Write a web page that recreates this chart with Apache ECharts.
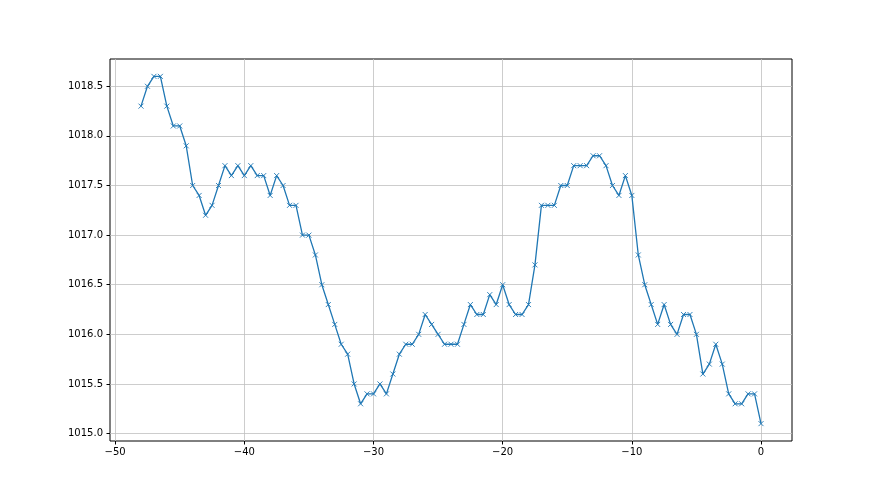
<!DOCTYPE html>
<html>
<head>
<meta charset="utf-8">
<script src="https://cdn.jsdelivr.net/npm/echarts@6/dist/echarts.min.js"></script>
<style>
  html, body { margin: 0; padding: 0; background: #fff; }
  #chart { width: 880px; height: 495px; }
</style>
</head>
<body>
<div id="chart"></div>
<script>
// hours before now, every half hour
const hours = [
  -48, -47.5, -47, -46.5, -46, -45.5, -45, -44.5, -44, -43.5,
  -43, -42.5, -42, -41.5, -41, -40.5, -40, -39.5, -39, -38.5,
  -38, -37.5, -37, -36.5, -36, -35.5, -35, -34.5, -34, -33.5,
  -33, -32.5, -32, -31.5, -31, -30.5, -30, -29.5, -29, -28.5,
  -28, -27.5, -27, -26.5, -26, -25.5, -25, -24.5, -24, -23.5,
  -23, -22.5, -22, -21.5, -21, -20.5, -20, -19.5, -19, -18.5,
  -18, -17.5, -17, -16.5, -16, -15.5, -15, -14.5, -14, -13.5,
  -13, -12.5, -12, -11.5, -11, -10.5, -10, -9.5, -9, -8.5,
  -8, -7.5, -7, -6.5, -6, -5.5, -5, -4.5, -4, -3.5,
  -3, -2.5, -2, -1.5, -1, -0.5, 0
]
const pressure = [
  1018.3, 1018.5, 1018.6, 1018.6, 1018.3, 1018.1, 1018.1, 1017.9, 1017.5, 1017.4,
  1017.2, 1017.3, 1017.5, 1017.7, 1017.6, 1017.7, 1017.6, 1017.7, 1017.6, 1017.6,
  1017.4, 1017.6, 1017.5, 1017.3, 1017.3, 1017.0, 1017.0, 1016.8, 1016.5, 1016.3,
  1016.1, 1015.9, 1015.8, 1015.5, 1015.3, 1015.4, 1015.4, 1015.5, 1015.4, 1015.6,
  1015.8, 1015.9, 1015.9, 1016.0, 1016.2, 1016.1, 1016.0, 1015.9, 1015.9, 1015.9,
  1016.1, 1016.3, 1016.2, 1016.2, 1016.4, 1016.3, 1016.5, 1016.3, 1016.2, 1016.2,
  1016.3, 1016.7, 1017.3, 1017.3, 1017.3, 1017.5, 1017.5, 1017.7, 1017.7, 1017.7,
  1017.8, 1017.8, 1017.7, 1017.5, 1017.4, 1017.6, 1017.4, 1016.8, 1016.5, 1016.3,
  1016.1, 1016.3, 1016.1, 1016.0, 1016.2, 1016.2, 1016.0, 1015.6, 1015.7, 1015.9,
  1015.7, 1015.4, 1015.3, 1015.3, 1015.4, 1015.4, 1015.1
]
const xTicks = [-50, -40, -30, -20, -10, 0]
const yTicks = [1015.0, 1015.5, 1016.0, 1016.5, 1017.0, 1017.5, 1018.0, 1018.5]

const chart = echarts.init(document.getElementById('chart'), null, { renderer: 'canvas' })
const labelStyle = { color: '#000', fontSize: 10, fontFamily: 'DejaVu Sans' }

chart.setOption({
  animation: false,
  grid: {
    left: 110, right: 88, top: 59, bottom: 54,
    show: true, borderColor: '#000', borderWidth: 1
  },
  xAxis: {
    type: 'value',
    min: -50.4,
    max: 2.4,
    axisLine: { show: false, onZero: false },
    axisTick: { show: true, length: 3.5, lineStyle: { color: '#000' }, customValues: xTicks },
    axisLabel: Object.assign({
      margin: 6,
      customValues: xTicks,
      formatter: v => String(v).replace('-', '\u2212')
    }, labelStyle),
    splitLine: { show: true, lineStyle: { color: '#c0c0c0', width: 0.8 } }
  },
  yAxis: {
    type: 'value',
    min: 1014.925,
    max: 1018.775,
    axisLine: { show: false, onZero: false },
    axisTick: { show: true, length: 3.5, lineStyle: { color: '#000' }, customValues: yTicks },
    axisLabel: Object.assign({
      margin: 7,
      customValues: yTicks,
      formatter: v => v.toFixed(1)
    }, labelStyle),
    splitLine: { show: true, lineStyle: { color: '#c0c0c0', width: 0.8 } }
  },
  series: [{
    type: 'line',
    data: hours.map((h, i) => [h, pressure[i]]),
    symbol: 'path://M0,0L10,10M10,0L0,10',
    symbolSize: 5,
    lineStyle: { color: '#1f77b4', width: 1.3 },
    itemStyle: { color: 'rgba(0,0,0,0)', borderColor: '#1f77b4', borderWidth: 0.9 }
  }]
})
</script>
</body>
</html>
